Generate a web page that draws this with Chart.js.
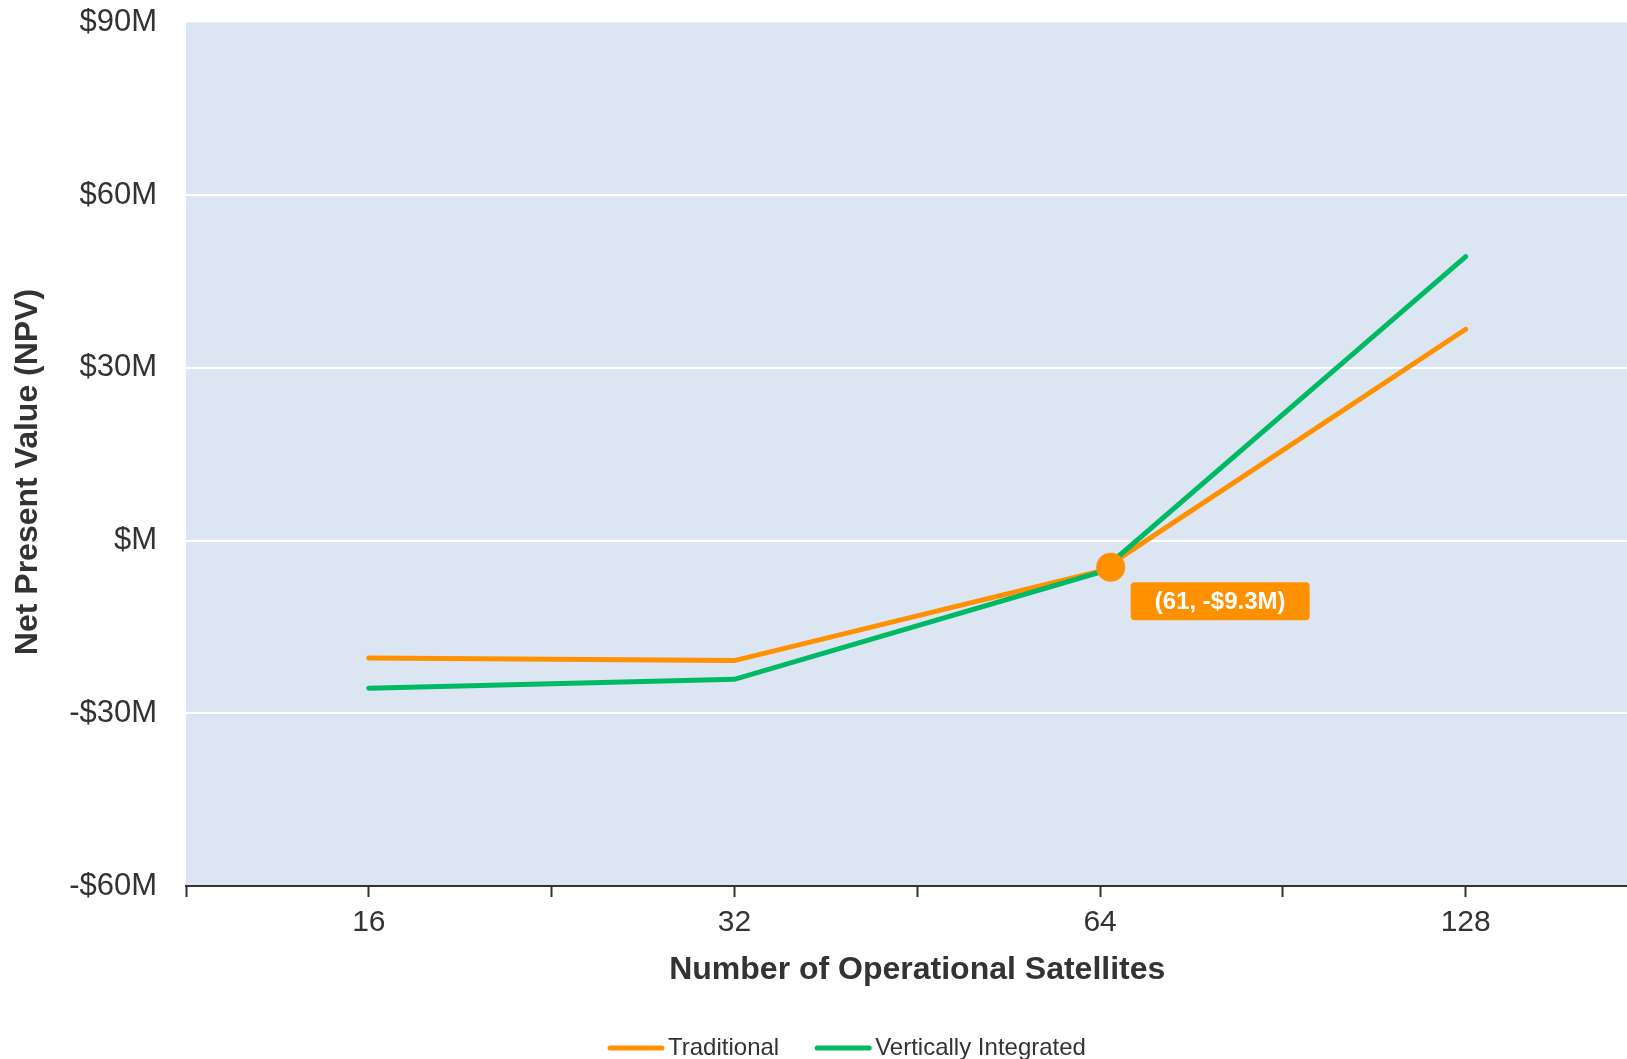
<!DOCTYPE html>
<html>
<head>
    <title>NPV vs Number of Operational Satellites</title>
    <script src="https://cdn.jsdelivr.net/npm/chart.js"></script>
    <style>
        html, body {
            margin: 0;
            padding: 0;
            background: #fff;
            overflow: hidden;
        }
        canvas {
            display: block;
        }
    </style>
</head>
<body>
    <!-- wider than the window on purpose: the plot runs off the right edge -->
    <canvas id="npvChart" width="1663" height="1059"></canvas>

    <script>
        // Data
        const satellites = [16, 32, 64, 128];
        const traditionalNpv = [-20.4, -20.85, -5.3, 36.7];
        const verticalNpv = [-25.65, -24.1, -5.5, 49.3];
        const seriesLabels = ['Traditional', 'Vertically Integrated'];
        const seriesColors = ['#ff9100', '#00b964'];

        // highlighted crossover point and its tag
        const markerSatellites = 65.3;
        const markerNpv = -4.65;
        const markerText = '(61, -$9.3M)';

        const yTicks = [-60, -30, 0, 30, 60, 90];

        const FONT = '"Liberation Sans", Arial, Helvetica, sans-serif';
        const TEXT = '#333333';

        function toPoints(values) {
            return satellites.map((n, i) => ({ x: Math.log2(n), y: values[i] }));
        }

        function moneyLabel(v) {
            if (v === 0) return '$M';
            return (v < 0 ? '-$' : '$') + Math.abs(v) + 'M';
        }

        // plot area fill
        const plotBackground = {
            id: 'plotBackground',
            beforeDraw(chart) {
                const { ctx, chartArea: a } = chart;
                ctx.save();
                ctx.fillStyle = '#dce6f2';
                ctx.fillRect(a.left, a.top, a.right - a.left, a.bottom - a.top);
                ctx.restore();
            }
        };

        // orange tag next to the marker
        const markerTag = {
            id: 'markerTag',
            afterDatasetsDraw(chart) {
                const meta = chart.getDatasetMeta(0);
                const pt = meta.data[0];
                if (!pt) return;
                const { ctx } = chart;
                const left = pt.x + 20, top = pt.y + 15, w = 179, h = 38;
                ctx.save();
                ctx.fillStyle = seriesColors[0];
                ctx.beginPath();
                ctx.roundRect(left, top, w, h, 4);
                ctx.fill();
                ctx.fillStyle = '#ffffff';
                ctx.font = 'bold 24px ' + FONT;
                ctx.textAlign = 'center';
                ctx.textBaseline = 'middle';
                ctx.fillText(markerText, left + w / 2, top + h / 2 + 1);
                ctx.restore();
            }
        };

        // legend drawn at the bottom, lines with round caps
        const bottomLegend = {
            id: 'bottomLegend',
            afterDraw(chart) {
                const { ctx } = chart;
                const y = 1048;
                let x = 608;
                ctx.save();
                ctx.font = '24px ' + FONT;
                ctx.textBaseline = 'middle';
                ctx.lineCap = 'round';
                ctx.lineWidth = 5;
                seriesLabels.forEach((label, i) => {
                    ctx.strokeStyle = seriesColors[i];
                    ctx.beginPath();
                    ctx.moveTo(x + 2, y);
                    ctx.lineTo(x + 54, y);
                    ctx.stroke();
                    ctx.fillStyle = TEXT;
                    ctx.fillText(label, x + 60, y);
                    x += 60 + ctx.measureText(label).width + 36;
                });
                ctx.restore();
            }
        };

        const ctx = document.getElementById('npvChart').getContext('2d');
        const npvChart = new Chart(ctx, {
            type: 'line',
            data: {
                datasets: [{
                    label: 'marker',
                    data: [{ x: Math.log2(markerSatellites), y: markerNpv }],
                    showLine: false,
                    pointRadius: 14.5,
                    pointBackgroundColor: seriesColors[0],
                    pointBorderWidth: 0,
                    order: 0
                }, {
                    label: seriesLabels[1],
                    data: toPoints(verticalNpv),
                    borderColor: seriesColors[1],
                    borderWidth: 5,
                    borderCapStyle: 'round',
                    pointRadius: 0,
                    fill: false,
                    order: 1
                }, {
                    label: seriesLabels[0],
                    data: toPoints(traditionalNpv),
                    borderColor: seriesColors[0],
                    borderWidth: 5,
                    borderCapStyle: 'round',
                    pointRadius: 0,
                    fill: false,
                    order: 2
                }]
            },
            options: {
                responsive: false,
                animation: false,
                devicePixelRatio: 1,
                layout: {
                    padding: { top: 22.4, left: 0, right: 0, bottom: 69.6 }
                },
                plugins: {
                    legend: { display: false },
                    tooltip: { enabled: false }
                },
                scales: {
                    x: {
                        type: 'linear',
                        min: 3.5,
                        max: 7.5,
                        ticks: {
                            stepSize: 0.5,
                            padding: 8,
                            color: TEXT,
                            font: { family: FONT, size: 30 },
                            maxRotation: 0,
                            autoSkip: false,
                            callback: v => Number.isInteger(v) ? String(2 ** v) : ''
                        },
                        grid: {
                            drawOnChartArea: false,
                            drawTicks: true,
                            tickLength: 11,
                            tickColor: TEXT,
                            tickWidth: 2
                        },
                        border: { display: true, color: TEXT, width: 2 },
                        title: {
                            display: true,
                            text: 'Number of Operational Satellites',
                            color: TEXT,
                            font: { family: FONT, size: 32, weight: 'bold' },
                            padding: { top: 2, bottom: 0 }
                        }
                    },
                    y: {
                        min: yTicks[0],
                        max: yTicks[yTicks.length - 1],
                        afterFit(scale) { scale.width = 186; },
                        afterBuildTicks(scale) { scale.ticks = yTicks.map(v => ({ value: v })); },
                        ticks: {
                            padding: 3,
                            color: TEXT,
                            font: { family: FONT, size: 31 },
                            callback: v => moneyLabel(v)
                        },
                        grid: {
                            drawTicks: true,
                            tickLength: 26,
                            tickColor: 'rgba(0,0,0,0)',
                            lineWidth: 2,
                            color: c => (c.tick && (c.tick.value === -60 || c.tick.value === 90)) ? 'rgba(0,0,0,0)' : '#ffffff'
                        },
                        border: { display: false },
                        title: {
                            display: true,
                            text: 'Net Present Value (NPV)    ',
                            color: TEXT,
                            font: { family: FONT, size: 32, weight: 'bold' },
                            padding: { top: 9, bottom: 0 }
                        }
                    }
                }
            },
            plugins: [plotBackground, markerTag, bottomLegend]
        });
    </script>
</body>
</html>
